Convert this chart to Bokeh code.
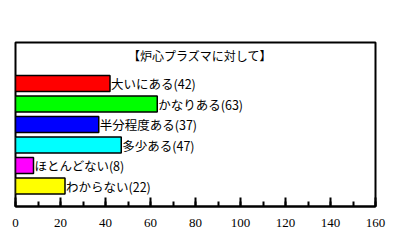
from bokeh.plotting import figure
from bokeh.models import Range1d, ColumnDataSource, FixedTicker
from bokeh.core.properties import value
from bokeh.embed import file_html
from bokeh.resources import INLINE

categories = ["大いにある", "かなりある", "半分程度ある", "多少ある", "ほとんどない", "わからない"]
counts = [42, 63, 37, 47, 8, 22]
colors = ["#FF0000", "#00FF00", "#0000FF", "#00FFFF", "#FF00FF", "#FFFF00"]
title_text = "【炉心プラズマに対して】"
x_ticks = [0, 20, 40, 60, 80, 100, 120, 140, 160]

n = len(categories)
ypos = [n - i for i in range(n)]
labels = [f"{c}({v})" for c, v in zip(categories, counts)]
src = ColumnDataSource(dict(y=ypos, right=counts, color=colors, label=labels))

p = figure(width=407, height=252, output_backend="svg", toolbar_location=None,
           x_range=Range1d(0, 160), y_range=Range1d(0, 8),
           min_border_left=15, min_border_right=32, min_border_top=42, min_border_bottom=46)
p.background_fill_color = "white"
p.border_fill_color = "white"
p.outline_line_color = "black"
p.outline_line_width = 2
p.xgrid.visible = False
p.ygrid.visible = False
p.yaxis.visible = False

p.hbar(y="y", left=0, right="right", height=0.78, fill_color="color",
       line_color="black", line_width=1.5, source=src)
p.text(x="right", y="y", text="label", source=src, x_offset=1,
       text_font=value("Noto Sans CJK JP"), text_font_size="12.5px",
       text_baseline="middle", text_align="left", text_color="black")
p.text(x=[82], y=[7.37], text=[title_text], text_font=value("Noto Sans CJK JP"),
       text_font_size="12px", text_baseline="middle", text_align="center", text_color="black")

ax = p.xaxis[0]
ax.ticker = FixedTicker(ticks=x_ticks, minor_ticks=list(range(0, 161, 10)))
ax.axis_line_color = "black"
ax.axis_line_width = 2
ax.major_tick_in = 9
ax.major_tick_out = 0
ax.minor_tick_in = 5
ax.minor_tick_out = 0
ax.major_tick_line_width = 2
ax.minor_tick_line_width = 2
ax.major_tick_line_color = "black"
ax.minor_tick_line_color = "black"
ax.major_label_standoff = 12
ax.major_label_text_font = "Liberation Serif"
ax.major_label_text_font_size = "13px"
ax.major_label_text_color = "black"

open("out.html", "w").write(file_html(p, INLINE))
